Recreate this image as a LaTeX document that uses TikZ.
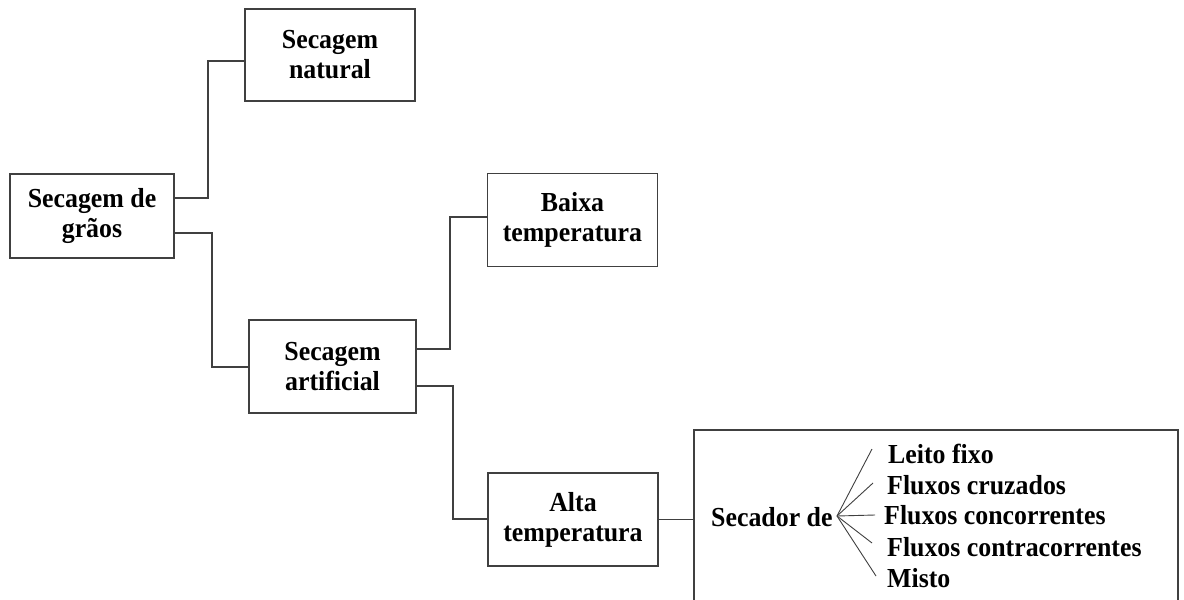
\documentclass[tikz,border=0pt]{standalone}
\usepackage{fontspec}
\setmainfont{Liberation Serif}[FakeStretch=0.94]
\begin{document}
\begin{tikzpicture}[x=1pt,y=-1pt,
  box/.style={draw=black!75, line width=1.3pt, align=center, inner sep=0pt,
    font=\bfseries\fontsize{27.5}{30}\selectfont},
  link/.style={draw=black!75, line width=1.1pt},
  item/.style={anchor=base west, inner sep=0pt, font=\bfseries\fontsize{27.5}{30}\selectfont}]
\useasboundingbox (0,0) rectangle (1184,600);
\clip (0,0) rectangle (1184,600);
\node[box, minimum width=170, minimum height=92] (natural) at (330,55) {Secagem\\natural};
\node[box, minimum width=164, minimum height=84] (graos) at (92,216) {Secagem de\\grãos};
\node[box, minimum width=170, minimum height=93] (baixa) at (572.5,220) {Baixa\\temperatura};
\node[box, minimum width=167, minimum height=93] (artificial) at (332.5,366.5) {Secagem\\artificial};
\node[box, minimum width=170, minimum height=93] (alta) at (573,519.5) {Alta\\temperatura};
\node[box, minimum width=484, minimum height=190] (secbox) at (936,525) {};
\node[item] (secador) at (711,526) {Secador de};
\node[item] (leito) at (888,463) {Leito fixo};
\node[item] (cruz) at (887,494) {Fluxos cruzados};
\node[item] (conc) at (884,524) {Fluxos concorrentes};
\node[item] (contra) at (887,556) {Fluxos contracorrentes};
\node[item] (misto) at (887,587) {Misto};
\coordinate (f) at (837,516);
\coordinate (f1) at (872,449);
\coordinate (f2) at (873,483);
\coordinate (f3) at (875,515);
\coordinate (f4) at (872,543);
\coordinate (f5) at (876,576);
\draw[link] (graos.east |- 0,198) -| (208,61) -- (natural.west |- 0,61);
\draw[link] (graos.east |- 0,233) -| (212,367) -- (artificial.west |- 0,367);
\draw[link] (artificial.east |- 0,349) -| (450,217) -- (baixa.west |- 0,217);
\draw[link] (artificial.east |- 0,386) -| (453,519) -- (alta.west |- 0,519);
\draw[link] (alta.east) -- (secbox.west |- alta.east);
\foreach \t in {f1,f2,f3,f4,f5} \draw[link, line width=0.9pt] (f) -- (\t);
\end{tikzpicture}
\end{document}
